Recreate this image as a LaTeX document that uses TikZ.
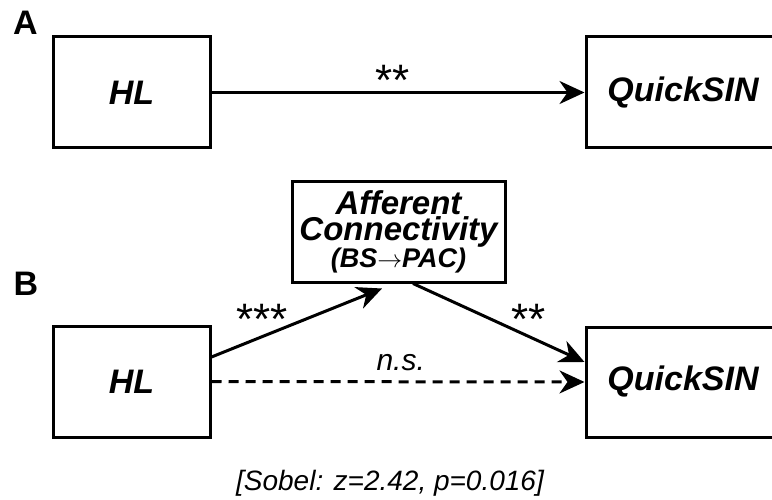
\documentclass[tikz,border=0pt]{standalone}
\usepackage{fontspec}
\setmainfont{Liberation Sans}
\usetikzlibrary{arrows.meta}

\begin{document}
\begin{tikzpicture}[x=1pt,y=-1pt,
    var/.style={shape=rectangle,draw=black,line width=3pt,inner sep=0pt,
        font=\bfseries\itshape\fontsize{34}{34}\selectfont},
    link/.style={line width=3pt,-{Stealth[length=25pt,width=23pt,inset=8pt]}},
    star/.style={font=\fontsize{44}{44}\selectfont,anchor=base},
    panel/.style={font=\bfseries\fontsize{34}{34}\selectfont,anchor=base}]
        \useasboundingbox (0,0) rectangle (772,500);
        \clip (0,0) rectangle (772,500);

        % panel A
        \node[panel] (labA) at (25.5,35) {A};
        \node[var,minimum width=157pt,minimum height=111pt] (HLa) at (131.5,92.5) {HL};
        \node[var,minimum width=194pt,minimum height=111pt] (QSa) at (683,92.5) {QuickSIN};
        \path [link](HLa) edge (QSa);
        \node[star] (sigA) at (393,96) {**};

        % panel B
        \node[panel] (labB) at (26,295) {B};
        \node[var,minimum width=157pt,minimum height=111pt] (HLb) at (131.5,381.5) {HL};
        \node[var,minimum width=194pt,minimum height=110pt] (QSb) at (683,382) {QuickSIN};
        \node[var,minimum width=213pt,minimum height=100pt,align=center,
            font=\bfseries\itshape\fontsize{33}{26}\selectfont] (Aff) at (398.5,232)
            {Afferent\\Connectivity\\{\fontsize{27}{26}\selectfont(BS$\rightarrow$PAC)}};

        \draw [link] ([yshift=24.5pt]HLb.east) -- ([xshift=-16.5pt,yshift=-5pt]Aff.south);
        \draw [link] ([xshift=14.5pt]Aff.south) -- ([yshift=20pt]QSb.west);
        \draw [link,dash pattern=on 10pt off 7pt] (HLb.east) -- (QSb.west);

        \node[star] (sigHA) at (262,334) {***};
        \node[star] (sigAQ) at (529,334) {**};
        \node[font=\itshape\fontsize{30}{30}\selectfont,anchor=base west] (ns) at (373,370) {n.s.};
        \node[font=\itshape\fontsize{28}{28}\selectfont,anchor=base] (sobel) at (390,490) {[Sobel: z=2.42, p=0.016]};
\end{tikzpicture}
\end{document}
